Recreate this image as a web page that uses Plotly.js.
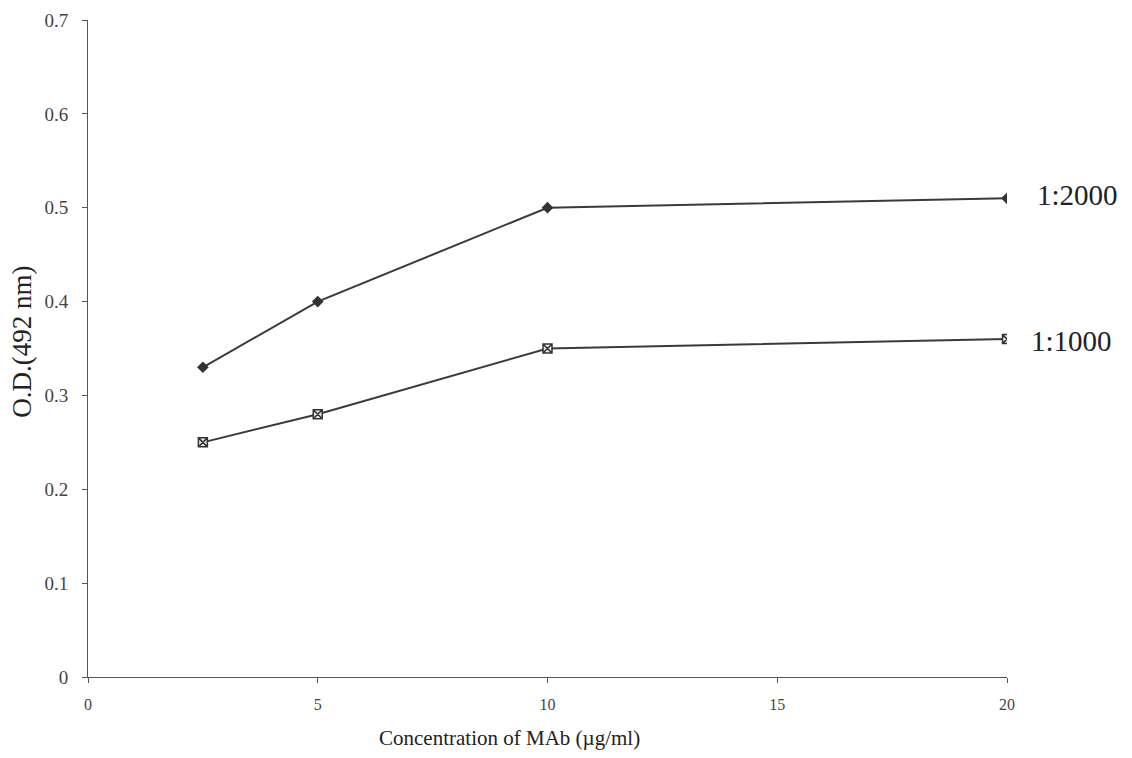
<!DOCTYPE html>
<html>
<head>
<meta charset="utf-8">
<script src="https://cdn.plot.ly/plotly-3.0.1.min.js"></script>
<style>html,body{margin:0;padding:0;background:#fff;}#chart{width:1132px;height:758px;}</style>
</head>
<body>
<div id="chart"></div>
<script>
// Data
const concentrations = [2.5, 5, 10, 20];
const od_1_2000 = [0.33, 0.40, 0.50, 0.51];
const od_1_1000 = [0.25, 0.28, 0.35, 0.36];
const seriesNames = ["1:2000", "1:1000"];
const xTicks = [0, 5, 10, 15, 20];
const yTicks = [0, 0.1, 0.2, 0.3, 0.4, 0.5, 0.6, 0.7];
const xTitle = "Concentration of MAb (µg/ml)";
const yTitle = "O.D.(492 nm)";

const lineColor = "#3a3a3a";
const serif = "Liberation Serif, Times New Roman, serif";

const traces = [
  {
    x: concentrations, y: od_1_2000, name: seriesNames[0],
    mode: "lines+markers", type: "scatter",
    line: {color: lineColor, width: 2},
    marker: {symbol: "diamond", size: 9, color: "#333"}
  },
  {
    x: concentrations, y: od_1_1000, name: seriesNames[1],
    mode: "lines+markers", type: "scatter",
    line: {color: lineColor, width: 2},
    marker: {symbol: "square-x", size: 9, color: "#e8e8e8", line: {color: "#333", width: 1.5}}
  }
];

const last = concentrations.length - 1;
const layout = {
  width: 1132, height: 758,
  margin: {l: 88, r: 125, t: 20, b: 81},
  paper_bgcolor: "#fff", plot_bgcolor: "#fff",
  showlegend: false,
  font: {family: serif, color: "#333", size: 14},
  xaxis: {
    range: [0, 20], tickvals: xTicks, ticktext: xTicks.map(String),
    showgrid: false, zeroline: false, showline: true, linecolor: "#555", linewidth: 1,
    ticks: "outside", ticklen: 5, tickcolor: "#555", ticklabelstandoff: 8,
    tickfont: {family: serif, size: 16, color: "#444"}
  },
  yaxis: {
    range: [0, 0.7], tickvals: yTicks, ticktext: yTicks.map(v => v === 0 ? "0" : v.toFixed(1)),
    showgrid: false, zeroline: false, showline: true, linecolor: "#555", linewidth: 1,
    ticks: "outside", ticklen: 5, tickcolor: "#555", ticklabelstandoff: 10,
    tickfont: {family: serif, size: 19, color: "#444"}
  },
  annotations: [
    {x: concentrations[last], y: od_1_2000[last], text: seriesNames[0], showarrow: false,
     xanchor: "left", yanchor: "middle", xshift: 28, yshift: 3, font: {family: serif, size: 29, color: "#222"}},
    {x: concentrations[last], y: od_1_1000[last], text: seriesNames[1], showarrow: false,
     xanchor: "left", yanchor: "middle", xshift: 22, yshift: -2, font: {family: serif, size: 29, color: "#222"}},
    {xref: "paper", yref: "paper", x: 0.459, y: -0.093, text: xTitle, showarrow: false,
     xanchor: "center", yanchor: "middle", font: {family: serif, size: 21, color: "#222"}},
    {xref: "paper", yref: "paper", x: -0.072, y: 0.51, text: yTitle, showarrow: false, textangle: -90,
     xanchor: "center", yanchor: "middle", font: {family: serif, size: 27, color: "#222"}}
  ]
};

Plotly.newPlot("chart", traces, layout, {displayModeBar: false, staticPlot: true});
</script>
</body>
</html>
